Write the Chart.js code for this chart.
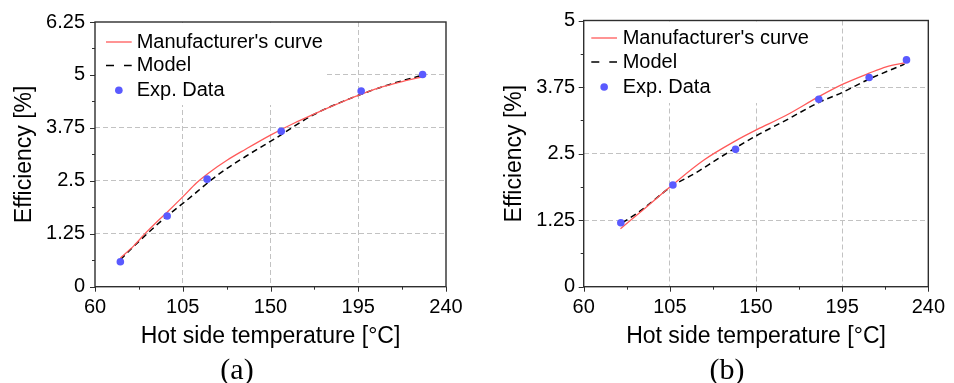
<!DOCTYPE html>
<html>
<head>
  <title>Efficiency vs hot side temperature</title>
  <script src="https://cdn.jsdelivr.net/npm/chart.js"></script>
  <style>
    body { margin: 0; background: #fff; }
    #wrap { position: relative; width: 954px; height: 383px; }
    canvas { position: absolute; top: 0; }
    .cap { position: absolute; font: 30px 'Liberation Serif', 'Times New Roman', serif; line-height: 1; transform: translate(-50%, -50%); color: #000; }
  </style>
</head>
<body>
<div id="wrap">
  <canvas id="chartA" width="477" height="360" style="left:0"></canvas>
  <canvas id="chartB" width="477" height="360" style="left:477px"></canvas>
  <div class="cap" style="left:237px; top:369px">(a)</div>
  <div class="cap" style="left:727px; top:369px">(b)</div>
</div>
<script>
  // axis ticks
  var xTicks = [60, 105, 150, 195, 240];
  var yTicksA = [0, 1.25, 2.5, 3.75, 5, 6.25];
  var yTicksB = [0, 1.25, 2.5, 3.75, 5];

  // panel (a)
  var expTempA = [73, 97, 117.5, 155.5, 196.5, 228];
  var expEffA  = [0.59, 1.67, 2.54, 3.67, 4.62, 5.01];
  var mfrTempA = [73, 80, 86, 91, 97, 105, 112, 119, 127.5, 137, 150, 162, 172, 184, 194, 206, 218, 228.4];
  var mfrEffA  = [0.68, 0.97, 1.27, 1.50, 1.76, 2.12, 2.45, 2.71, 2.98, 3.24, 3.58, 3.86, 4.07, 4.31, 4.50, 4.70, 4.85, 4.96];
  var modTempA = [73, 83, 94.7, 107.3, 122.7, 137.4, 152.8, 172, 194, 210, 228.4];
  var modEffA  = [0.64, 1.09, 1.58, 2.05, 2.63, 3.08, 3.51, 4.06, 4.50, 4.76, 5.0];

  // panel (b)
  var expTempB = [79.4, 106.6, 139.3, 182.8, 209.1, 228.6];
  var expEffB  = [1.20, 1.91, 2.58, 3.52, 3.93, 4.26];
  var mfrTempB = [79.2, 92.2, 106.6, 122.8, 139.3, 150.4, 165.3, 182.8, 195.1, 209.1, 218, 228.3];
  var mfrEffB  = [1.09, 1.48, 1.92, 2.38, 2.74, 2.95, 3.21, 3.57, 3.80, 4.01, 4.13, 4.21];
  var modTempB = [80.2, 88.7, 106.6, 117.7, 131.3, 150.4, 165.3, 182.8, 195.1, 209.1, 227.6];
  var modEffB  = [1.20, 1.40, 1.90, 2.12, 2.43, 2.84, 3.12, 3.46, 3.65, 3.90, 4.18];

  var SANS = "'Liberation Sans', Arial, sans-serif";
  var RED = '#ff5a5a', BLUE = '#5a5aff', FRAME = '#2e2e2e';

  function pts(xs, ys) {
    return xs.map(function (x, i) { return { x: x, y: ys[i] }; });
  }

  function midpoints(arr) {
    var out = [];
    for (var i = 0; i < arr.length - 1; i++) out.push((arr[i] + arr[i + 1]) / 2);
    return out;
  }

  // legend inside the plot, frame and outward tick marks
  function decor(L, yTicks) {
    return {
      id: 'decor',
      beforeDatasetsDraw: function (chart) {
        var a = chart.chartArea, c = chart.ctx;
        c.save();
        c.fillStyle = '#fff';
        c.fillRect(a.left + 1, a.top + 1, L.boxRight - a.left - 1, L.boxBottom - a.top - 1);
        c.restore();
      },
      afterDatasetsDraw: function (chart) {
        var a = chart.chartArea, c = chart.ctx;
        var xs = chart.scales.x, ys = chart.scales.y;
        c.save();

        // legend
        c.font = '20px ' + SANS;
        c.fillStyle = '#000';
        c.textBaseline = 'middle';
        c.textAlign = 'left';
        c.lineWidth = 1.3;
        c.strokeStyle = RED;
        c.beginPath(); c.moveTo(L.lineX0, L.rows[0]); c.lineTo(L.lineX1, L.rows[0]); c.stroke();
        c.strokeStyle = '#000';
        c.lineWidth = 1.6;
        c.setLineDash([8, 10]);
        c.beginPath(); c.moveTo(L.lineX0, L.rows[1]); c.lineTo(L.lineX1, L.rows[1]); c.stroke();
        c.setLineDash([]);
        c.fillStyle = BLUE;
        c.beginPath(); c.arc((L.lineX0 + L.lineX1) / 2, L.rows[2], 3.8, 0, Math.PI * 2); c.fill();
        c.fillStyle = '#000';
        c.fillText("Manufacturer's curve", L.textX, L.rows[0]);
        c.fillText('Model', L.textX, L.rows[1]);
        c.fillText('Exp. Data', L.textX, L.rows[2]);

        // ticks
        c.strokeStyle = FRAME;
        c.lineWidth = 1;
        function xt(v, len) {
          var p = Math.round(xs.getPixelForValue(v)) + 0.5;
          c.beginPath(); c.moveTo(p, a.bottom); c.lineTo(p, a.bottom + len); c.stroke();
        }
        function yt(v, len) {
          var p = Math.round(ys.getPixelForValue(v)) + 0.5;
          c.beginPath(); c.moveTo(a.left, p); c.lineTo(a.left - len, p); c.stroke();
        }
        xTicks.forEach(function (v) { xt(v, 5); });
        midpoints(xTicks).forEach(function (v) { xt(v, 3); });
        yTicks.forEach(function (v) { yt(v, 5); });
        midpoints(yTicks).forEach(function (v) { yt(v, 3); });

        // frame
        c.lineWidth = 1.4;
        c.strokeRect(a.left, a.top, a.right - a.left, a.bottom - a.top);
        c.restore();
      }
    };
  }

  function makeChart(id, yTicks, exp, mfr, mod, L) {
    var yMax = yTicks[yTicks.length - 1];
    var H = 360, W = 477;
    var gridColor = function (lo, hi) {
      return function (ctx) {
        var v = ctx.tick ? ctx.tick.value : null;
        return (v === lo || v === hi) ? 'rgba(0,0,0,0)' : '#c2c2c2';
      };
    };
    return new Chart(document.getElementById(id), {
      type: 'scatter',
      data: {
        datasets: [
          { label: 'Exp. Data', data: exp, pointRadius: 3.8, pointBackgroundColor: BLUE,
            pointBorderColor: BLUE, pointBorderWidth: 0, order: 0 },
          { label: "Manufacturer's curve", data: mfr, showLine: true, borderColor: RED,
            borderWidth: 1.3, pointRadius: 0, cubicInterpolationMode: 'monotone', order: 1 },
          { label: 'Model', data: mod, showLine: true, borderColor: '#000', borderWidth: 1.5,
            borderDash: [6, 4], pointRadius: 0, cubicInterpolationMode: 'monotone', order: 2 }
        ]
      },
      options: {
        responsive: false,
        animation: false,
        devicePixelRatio: 1,
        layout: { padding: { left: 0, top: L.top, right: W - L.right, bottom: 0 } },
        plugins: { legend: { display: false }, tooltip: { enabled: false } },
        scales: {
          x: {
            type: 'linear', min: 60, max: 240,
            afterBuildTicks: function (s) { s.ticks = xTicks.map(function (v) { return { value: v }; }); },
            afterFit: function (s) { s.height = H - L.bottom; },
            ticks: { color: '#000', font: { family: SANS, size: 20 }, padding: 9, maxRotation: 0,
                     autoSkip: false, callback: function (v) { return String(v); } },
            grid: { color: gridColor(60, 240), drawTicks: false, lineWidth: 1 },
            border: { display: false, dash: [5, 3] },
            title: { display: true, text: 'Hot side temperature [°C]', color: '#000',
                     font: { family: SANS, size: 23 }, padding: { top: 0, bottom: 9.2 } }
          },
          y: {
            min: 0, max: yMax,
            afterBuildTicks: function (s) { s.ticks = yTicks.map(function (v) { return { value: v }; }); },
            afterFit: function (s) { s.width = L.left; },
            ticks: { color: '#000', font: { family: SANS, size: 20 }, padding: L.tickPad,
                     autoSkip: false, callback: function (v) { return String(v); } },
            grid: { color: gridColor(0, yMax), drawTicks: false, lineWidth: 1 },
            border: { display: false, dash: [5, 3] },
            title: { display: true, text: 'Efficiency [%]', color: '#000',
                     font: { family: SANS, size: 23 }, padding: { top: L.titlePad, bottom: 0 } }
          }
        }
      },
      plugins: [decor(L, yTicks)]
    });
  }

  makeChart('chartA', yTicksA,
    pts(expTempA, expEffA), pts(mfrTempA, mfrEffA), pts(modTempA, modEffA),
    { left: 95, right: 446, top: 19.5, bottom: 286.7, tickPad: 10, titlePad: 11.2,
      boxRight: 327, boxBottom: 105, lineX0: 106, lineX1: 131.7, textX: 136.7, rows: [42, 65.5, 90.3] });

  makeChart('chartB', yTicksB,
    pts(expTempB, expEffB), pts(mfrTempB, mfrEffB), pts(modTempB, modEffB),
    { left: 106.7, right: 459.3, top: 19.3, bottom: 286.7, tickPad: 8.5, titlePad: 23.7,
      boxRight: 336.7, boxBottom: 103, lineX0: 114.3, lineX1: 140, textX: 145.7, rows: [38, 62, 87] });
</script>
</body>
</html>
